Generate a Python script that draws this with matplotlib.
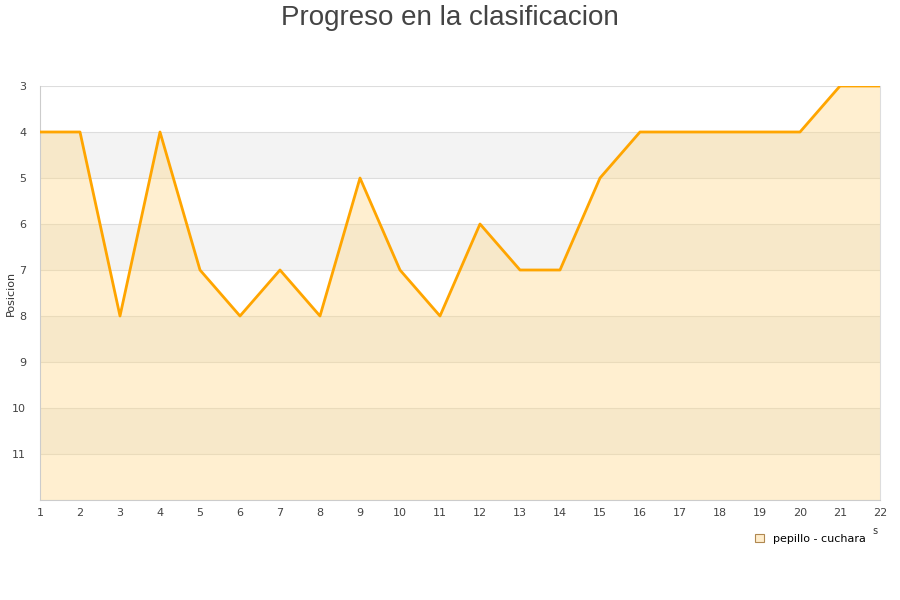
import matplotlib
matplotlib.use("Agg")
import matplotlib.pyplot as plt
from matplotlib.patches import Patch

jornadas = list(range(1, 23))
posicion = [4, 4, 8, 4, 7, 8, 7, 8, 5, 7, 8, 6, 7, 7, 5, 4, 4, 4, 4, 4, 3, 3]
serie = "pepillo - cuchara"
yticks = [3, 4, 5, 6, 7, 8, 9, 10, 11]

fig = plt.figure(figsize=(9, 6), dpi=100)
ax = fig.add_axes([40/900, 1-500/600, 840/900, 414/600])

ax.set_xlim(1, 22)
ax.set_ylim(12, 3)

# alternating bands
for b in [4, 6, 8, 10]:
    ax.axhspan(b, b + 1, color="#f3f3f3", zorder=0, lw=0)
for y in range(3, 13):
    ax.axhline(y, color="#dddddd", lw=0.8, zorder=1)

ax.fill_between(jornadas, posicion, 12, color="#ffd98a", alpha=0.4, lw=0, zorder=2)
ax.plot(jornadas, posicion, color="#ffa500", lw=2, zorder=3)

ax.set_xticks(jornadas)
ax.set_yticks(yticks)
ax.tick_params(axis="both", length=0, labelsize=8, colors="#444444", pad=6)
ax.tick_params(axis="y", pad=10)
ax.spines["top"].set_visible(False)
ax.spines["left"].set_color("#cccccc")
ax.spines["bottom"].set_color("#cccccc")
ax.spines["right"].set_color("#dddddd")
ax.set_ylabel("Posicion", fontsize=8, color="#333333")
ax.yaxis.set_label_coords(-24/840, 0.5)

fig.text(0.5, 1-18/600, "Progreso en la clasificacion", ha="center", va="center",
         fontsize=20, color="#444444", family="Liberation Sans")
fig.text(875/900, 1-531/600, "s", ha="center", va="center", fontsize=7, color="#333333")

handle = Patch(facecolor="#ffedcc", edgecolor="#b08850", lw=0.8)
fig.legend([handle], [serie], loc="center left", bbox_to_anchor=(745/900, 1-539/600),
           frameon=False, fontsize=8, handlelength=0.8, handleheight=0.8, handletextpad=0.8)

fig.savefig("out.png", dpi=100)
